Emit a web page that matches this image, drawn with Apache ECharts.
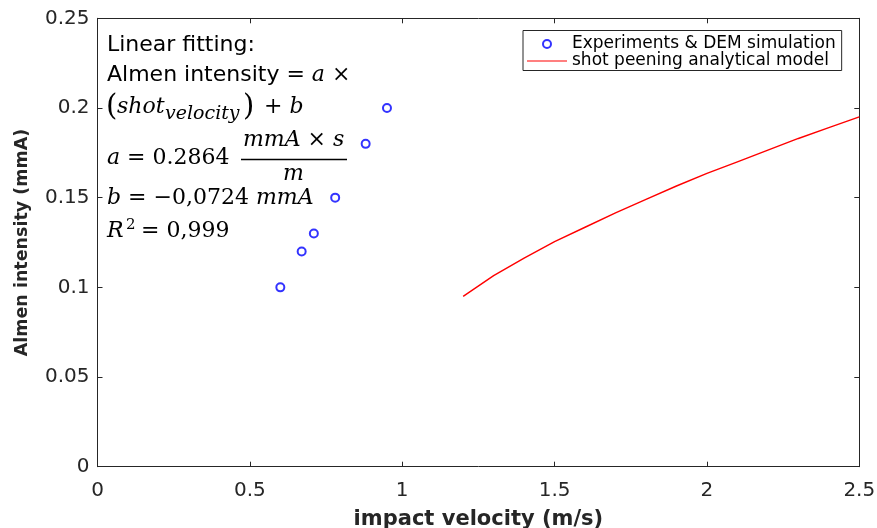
<!DOCTYPE html>
<html>
<head>
<meta charset="utf-8">
<script src="https://cdn.jsdelivr.net/npm/echarts@6/dist/echarts.min.js"></script>
<style>
  html, body { margin: 0; padding: 0; background: #fff; }
  #main { width: 877px; height: 528px; }
</style>
</head>
<body>
<div id="main"></div>
<script>
// experiments & DEM simulation (impact velocity m/s, Almen intensity mmA)
const expVelocity = [0.60, 0.67, 0.71, 0.78, 0.88, 0.95];
const expIntensity = [0.100, 0.120, 0.130, 0.150, 0.180, 0.200];
// shot peening analytical model
const modelVelocity = [1.2, 1.3, 1.4, 1.5, 1.6, 1.7, 1.8, 1.9, 2.0, 2.1, 2.2, 2.3, 2.4, 2.5];
const modelIntensity = [0.095, 0.1065, 0.1163, 0.1255, 0.1335, 0.1415, 0.149, 0.1565, 0.1635, 0.170, 0.1765, 0.183, 0.189, 0.195];
const xTicks = ['0', '0.5', '1', '1.5', '2', '2.5'];
const yTicks = ['0', '0.05', '0.1', '0.15', '0.2', '0.25'];

const axisColor = '#262626';
const sans = 'DejaVu Sans';
const serif = 'DejaVu Serif';

const chart = echarts.init(document.getElementById('main'));

// MATLAB style box: every side gets a line and inward ticks
const boxAxis = (extra) => Object.assign({
  type: 'value',
  axisLine: { show: true, onZero: false, lineStyle: { color: axisColor, width: 1 } },
  axisTick: { show: true, inside: true, length: 5, lineStyle: { color: axisColor } },
  splitLine: { show: false },
  axisLabel: { show: false }
}, extra);

const italic = { fontFamily: serif, fontStyle: 'italic', fontSize: 22 };
const upright = { fontFamily: serif, fontSize: 22 };

const option = {
  animation: false,
  backgroundColor: '#fff',
  grid: { left: 97.5, right: 17.7, top: 18.3, bottom: 61.3, containLabel: false, outerBoundsMode: 'none' },
  xAxis: [
    boxAxis({
      position: 'bottom', min: 0, max: 2.5, interval: 0.5,
      axisLabel: {
        show: true, color: axisColor, fontFamily: sans, fontSize: 20, margin: 14,
        formatter: (v) => xTicks[Math.round(v / 0.5)]
      },
      name: 'impact velocity (m/s)', nameLocation: 'middle', nameGap: 42,
      nameTextStyle: { color: axisColor, fontFamily: sans, fontSize: 21, fontWeight: 'bold' }
    }),
    boxAxis({ position: 'top', min: 0, max: 2.5, interval: 0.5 })
  ],
  yAxis: [
    boxAxis({
      position: 'left', min: 0, max: 0.25, interval: 0.05,
      axisLabel: {
        show: true, color: axisColor, fontFamily: sans, fontSize: 20, margin: 8,
        formatter: (v) => yTicks[Math.round(v / 0.05)]
      },
      name: 'Almen intensity (mmA)', nameLocation: 'middle', nameGap: 66,
      nameTextStyle: { color: axisColor, fontFamily: sans, fontSize: 17.5, fontWeight: 'bold' }
    }),
    boxAxis({ position: 'right', min: 0, max: 0.25, interval: 0.05 })
  ],
  legend: {
    orient: 'vertical',
    left: 523, top: 30.5,
    backgroundColor: '#fff',
    borderColor: axisColor, borderWidth: 1,
    padding: [5, 6, 1, 4],
    itemGap: 0,
    itemWidth: 40, itemHeight: 8,
    textStyle: { color: '#000', fontFamily: sans, fontSize: 17, lineHeight: 17 },
    data: [
      { name: 'Experiments & DEM simulation', icon: 'emptyCircle',
        itemStyle: { color: '#0000ff', borderColor: '#0000ff', borderWidth: 1.5 } },
      { name: 'shot peening analytical model', icon: 'path://M0,0 H40 V1.2 H0 Z',
        itemStyle: { color: '#ff0000' } }
    ]
  },
  series: [
    {
      name: 'Experiments & DEM simulation',
      type: 'scatter',
      symbol: 'emptyCircle',
      symbolSize: 8,
      itemStyle: { color: '#0000ff', borderColor: '#0000ff', borderWidth: 1.6 },
      data: expVelocity.map((v, i) => [v, expIntensity[i]])
    },
    {
      name: 'shot peening analytical model',
      type: 'line',
      showSymbol: false,
      symbol: 'none',
      lineStyle: { color: '#ff0000', width: 1.4 },
      itemStyle: { color: '#ff0000' },
      data: modelVelocity.map((v, i) => [v, modelIntensity[i]])
    }
  ],
  graphic: [
    { type: 'text', left: 107, top: 34, style: { text: 'Linear fitting:', fill: '#000', font: '22px ' + sans } },
    { type: 'text', left: 107, top: 64, style: {
        text: '{s|Almen intensity = }{m|a}{n| ×}', fill: '#000',
        rich: { s: { fontFamily: sans, fontSize: 22 }, m: italic, n: upright } } },
    { type: 'text', left: 106, top: 93, style: { text: '(', fill: '#000', font: '29px ' + serif } },
    { type: 'text', left: 117, top: 96, style: { text: 'shot', fill: '#000', font: 'italic 22px ' + serif } },
    { type: 'text', left: 165, top: 105, style: { text: 'velocity', fill: '#000', font: 'italic 19px ' + serif } },
    { type: 'text', left: 243, top: 93, style: { text: ')', fill: '#000', font: '29px ' + serif } },
    { type: 'text', left: 264, top: 96, style: {
        text: '{n|+ }{m|b}', fill: '#000', rich: { m: italic, n: upright } } },
    { type: 'text', left: 107, top: 147, style: {
        text: '{m|a}{n| = 0.2864}', fill: '#000', rich: { m: italic, n: upright } } },
    { type: 'text', left: 243, top: 129, style: {
        text: '{m|mmA}{n| × }{m|s}', fill: '#000', rich: { m: italic, n: upright } } },
    { type: 'line', shape: { x1: 241, y1: 159.5, x2: 347, y2: 159.5 }, style: { stroke: '#000', lineWidth: 1.5 } },
    { type: 'text', left: 283, top: 163, style: { text: 'm', fill: '#000', font: 'italic 22px ' + serif } },
    { type: 'text', left: 107, top: 187, style: {
        text: '{m|b}{n| = −0,0724 }{m|mmA}', fill: '#000', rich: { m: italic, n: upright } } },
    { type: 'text', left: 107, top: 220, style: { text: 'R', fill: '#000', font: 'italic 22px ' + serif } },
    { type: 'text', left: 126, top: 218, style: { text: '2', fill: '#000', font: '15px ' + serif } },
    { type: 'text', left: 141, top: 220, style: { text: '= 0,999', fill: '#000', font: '22px ' + serif } }
  ]
};

chart.setOption(option);
</script>
</body>
</html>
